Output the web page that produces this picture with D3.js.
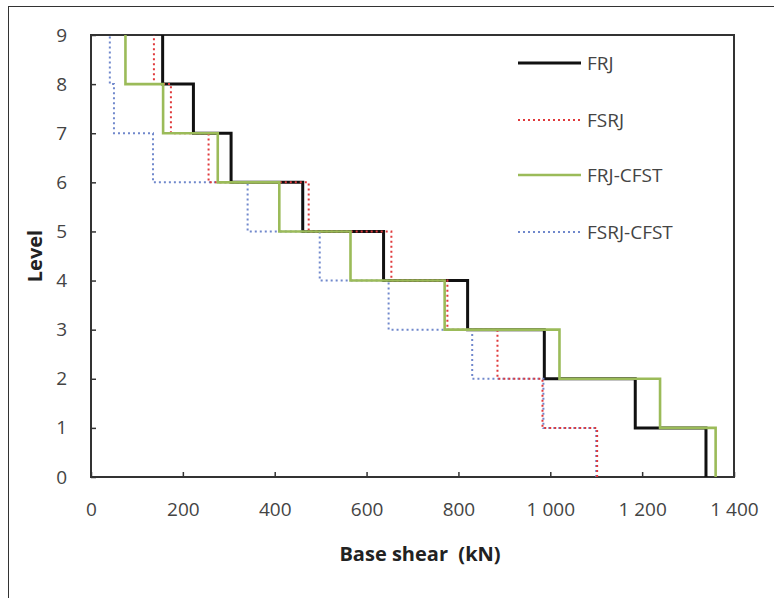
<!DOCTYPE html>
<html>
<head>
<meta charset="utf-8">
<script src="https://cdn.jsdelivr.net/npm/d3@7"></script>
<style>
  body { margin: 0; background: #fff; }
  text { font-family: "Liberation Sans Narrow", "Open Sans", "Noto Sans", sans-serif; }
</style>
</head>
<body>
<script>
const width = 774;
const height = 598;

// story shear values, story 1 (level 0-1) up to story 9 (level 8-9), kN
const levels = [0, 1, 2, 3, 4, 5, 6, 7, 8, 9];
const xTicks = [0, 200, 400, 600, 800, 1000, 1200, 1400];
const frj = [1339, 1185, 987, 820, 637, 461, 305, 223, 156];
const fsrj = [1102, 983, 885, 776, 654, 474, 256, 174, 137];
const frjCfst = [1360, 1239, 1020, 770, 565, 410, 276, 157, 75];
const fsrjCfst = [1100, 985, 830, 648, 498, 341, 135, 50, 41];

const series = [
    { name: "FRJ", values: frj, colour: "#111111", widthPx: 3, dash: null, legendY: 63 },
    { name: "FSRJ", values: fsrj, colour: "#e0393b", widthPx: 2, dash: "2,3", legendY: 120 },
    { name: "FRJ-CFST", values: frjCfst, colour: "#9bbb59", widthPx: 2.6, dash: null, legendY: 175 },
    { name: "FSRJ-CFST", values: fsrjCfst, colour: "#7088cc", widthPx: 2, dash: "2,3", legendY: 232 },
];
const drawOrder = ["FRJ", "FSRJ-CFST", "FSRJ", "FRJ-CFST"];

const margin = { top: 35, right: 40, bottom: 121, left: 91 };

const svg = d3
    .select("body")
    .append("svg")
    .attr("width", width)
    .attr("height", height);

// outer figure border (runs off the right and bottom edge)
svg.append("rect")
    .attr("x", 8.5)
    .attr("y", 6.5)
    .attr("width", width + 10)
    .attr("height", height + 10)
    .attr("fill", "none")
    .attr("stroke", "#333")
    .attr("stroke-width", 1);

const x = d3.scaleLinear().domain([0, 1400]).range([margin.left, width - margin.right]);
const y = d3.scaleLinear().domain([0, 9]).range([height - margin.bottom, margin.top]);

// axes with inside ticks
const xAxis = svg.append("g")
    .attr("transform", `translate(0, ${y(0)})`)
    .call(d3.axisBottom(x).tickValues(xTicks).tickSize(-5).tickPadding(26)
        .tickFormat((d) => d >= 1000 ? d3.format(",")(d).replace(",", " ") : d));

const yAxis = svg.append("g")
    .attr("transform", `translate(${x(0)}, 0)`)
    .call(d3.axisLeft(y).tickValues(levels).tickSize(-5).tickPadding(24));

[xAxis, yAxis].forEach((g) => {
    g.select(".domain").remove();
    g.selectAll(".tick line").attr("stroke", "#333").attr("stroke-width", 1.5);
    g.selectAll(".tick text").attr("fill", "#444").style("font-size", "19px");
});

// plot frame
svg.append("rect")
    .attr("x", x(0))
    .attr("y", y(9))
    .attr("width", x(1400) - x(0))
    .attr("height", y(0) - y(9))
    .attr("fill", "none")
    .attr("stroke", "#333")
    .attr("stroke-width", 2);

// step profile: vertical run per story, horizontal jump at each floor level
const line = d3.line()
    .x((d) => x(d[0]))
    .y((d) => y(d[1]));

function stepPoints(values) {
    const pts = [];
    values.forEach((v, i) => {
        pts.push([v, levels[i]]);
        pts.push([v, levels[i + 1]]);
    });
    return pts;
}

drawOrder.forEach((n) => {
    const s = series.find((d) => d.name === n);
    svg.append("path")
        .datum(stepPoints(s.values))
        .attr("d", line)
        .attr("fill", "none")
        .attr("stroke", s.colour)
        .attr("stroke-width", s.widthPx)
        .attr("stroke-dasharray", s.dash);
});

// legend
const legendItems = svg.selectAll(".legend-item")
    .data(series)
    .enter()
    .append("g")
    .attr("class", "legend-item")
    .attr("transform", (d) => `translate(518, ${d.legendY})`);

legendItems.append("line")
    .attr("x1", 0)
    .attr("x2", 63)
    .attr("stroke", (d) => d.colour)
    .attr("stroke-width", (d) => d.widthPx)
    .attr("stroke-dasharray", (d) => d.dash);

legendItems.append("text")
    .text((d) => d.name)
    .attr("x", 69)
    .attr("dy", "0.36em")
    .attr("fill", "#444")
    .style("font-size", "19px");

// axis titles
svg.append("text")
    .attr("x", 420)
    .attr("y", 561)
    .attr("text-anchor", "middle")
    .attr("fill", "#222")
    .style("font-size", "20px")
    .style("font-weight", "bold")
    .style("white-space", "pre")
    .text("Base shear  (kN)");

svg.append("text")
    .attr("transform", `translate(42, ${(y(0) + y(9)) / 2}) rotate(-90)`)
    .attr("text-anchor", "middle")
    .attr("fill", "#222")
    .style("font-size", "20px")
    .style("font-weight", "bold")
    .text("Level");
</script>
</body>
</html>
